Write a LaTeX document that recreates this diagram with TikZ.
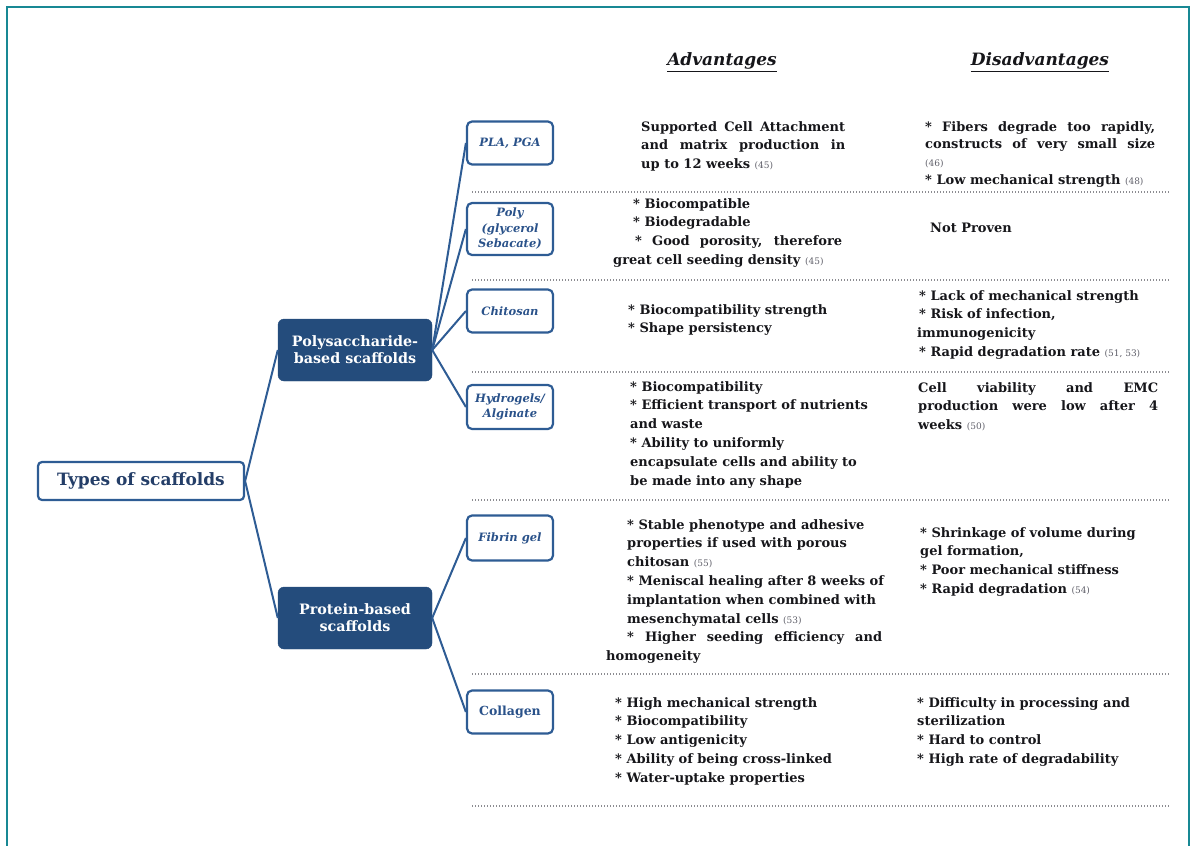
\documentclass[tikz,border=0pt]{standalone}
\usepackage{fontspec}
\setmainfont{DejaVu Serif}
\definecolor{frameteal}{RGB}{24,136,148}
\definecolor{boxblue}{RGB}{36,76,124}
\definecolor{lineblue}{RGB}{46,92,148}
\definecolor{labelblue}{RGB}{42,82,138}
\definecolor{navy}{RGB}{36,62,104}
\definecolor{bodytext}{RGB}{22,22,26}
\definecolor{refgray}{RGB}{95,95,105}
\definecolor{sepgray}{RGB}{140,140,145}
\newcommand\rf[1]{{\mdseries\fontsize{9}{10}\selectfont\color{refgray}(#1)}}
\newcommand\jl[2]{\makebox[#1pt][s]{#2}}
\begin{document}
\begin{tikzpicture}[x=1pt,y=-1pt,
  every node/.style={inner sep=0pt},
  tbox/.style={draw=lineblue,line width=2.2pt,rounded corners=4pt,fill=white,minimum width=206pt,minimum height=38pt,text=navy,font=\bfseries\fontsize{17}{18}\selectfont},
  dbox/.style={fill=boxblue,draw=boxblue,rounded corners=6pt,minimum width=154pt,minimum height=62pt,text=white,align=center,font=\bfseries\fontsize{14.3}{17}\selectfont},
  lbox/.style={draw=lineblue,line width=2.2pt,rounded corners=5pt,fill=white,minimum width=86pt,minimum height=43pt,text=labelblue,align=center,font=\bfseries\itshape\fontsize{11.5}{15.5}\selectfont},
  txt/.style={anchor=north west,align=left,text=bodytext,font=\bfseries\fontsize{13}{18.8}\selectfont},
  hdr/.style={text=bodytext,font=\bfseries\itshape\fontsize{17}{18}\selectfont},
  link/.style={draw=lineblue,line width=2pt},
  sep/.style={draw=sepgray,line width=1.3pt,dash pattern=on 1.2pt off 1.8pt}]
\useasboundingbox (0,0) rectangle (1192,846);
\draw[frameteal,line width=2.5pt] (7,846) -- (7,7) -- (1189,7) -- (1189,846);

\node[hdr] (adv) at (722,62) {\underline{Advantages}};
\node[hdr] (dis) at (1040,62) {\underline{Disadvantages}};

\node[tbox] (types) at (141,481) {Types of scaffolds};
\node[dbox] (poly) at (355,350) {Polysaccharide-\\based scaffolds};
\node[dbox] (prot) at (355,618) {Protein-based\\scaffolds};

\node[lbox] (pla) at (510,143) {PLA, PGA};
\node[lbox,minimum height=52pt] (pgs) at (510,229) {Poly\\(glycerol\\Sebacate)};
\node[lbox] (chit) at (510,311) {Chitosan};
\node[lbox,minimum height=44pt] (hydro) at (510,407) {Hydrogels/\\Alginate};
\node[lbox,minimum height=45pt] (fib) at (510,538) {Fibrin gel};
\node[lbox,font=\bfseries\fontsize{12.5}{15}\selectfont] (coll) at (510,712) {Collagen};

\draw[link] (types.east) -- (poly.west) (types.east) -- (prot.west);
\foreach \n in {pla,pgs,chit,hydro} \draw[link] (poly.east) -- (\n.west);
\foreach \n in {fib,coll} \draw[link] (prot.east) -- (\n.west);

\foreach \y in {192,280,372,500,674,806} \draw[sep] (472,\y) -- (1170,\y);

\node[txt] (a1) at (641,121) {\jl{204}{Supported Cell Attachment}\\ \jl{204}{and matrix production in}\\ up to 12 weeks \rf{45}};
\node[txt,font=\bfseries\fontsize{13}{17.8}\selectfont] (d1) at (925,121) {\jl{230}{* Fibers degrade too rapidly,}\\ \jl{230}{constructs of very small size}\\ \rf{46}\\ * Low mechanical strength \rf{48}};
\node[txt] (a2) at (613,198) {\hspace*{20pt}* Biocompatible\\ \hspace*{20pt}* Biodegradable\\ \hspace*{22pt}\jl{207}{* Good porosity, therefore}\\ great cell seeding density \rf{45}};
\node[txt] (d2) at (930,223) {Not Proven};
\node[txt] (a3) at (628,304) {* Biocompatibility strength\\ * Shape persistency};
\node[txt] (d3) at (917,290) {\hspace*{2pt}* Lack of mechanical strength\\ \hspace*{2pt}* Risk of infection,\\ immunogenicity\\ \hspace*{2pt}* Rapid degradation rate \rf{51, 53}};
\node[txt] (a4) at (630,381) {* Biocompatibility\\ * Efficient transport of nutrients\\ and waste\\ * Ability to uniformly\\ encapsulate cells and ability to\\ be made into any shape};
\node[txt] (d4) at (918,382) {\jl{240}{Cell viability and EMC}\\ \jl{240}{production were low after 4}\\ weeks \rf{50}};
\node[txt] (a5) at (606,519) {\hspace*{21pt}* Stable phenotype and adhesive\\ \hspace*{21pt}properties if used with porous\\ \hspace*{21pt}chitosan \rf{55}\\ \hspace*{21pt}* Meniscal healing after 8 weeks of\\ \hspace*{21pt}implantation when combined with\\ \hspace*{21pt}mesenchymatal cells \rf{53}\\ \hspace*{21pt}\jl{255}{* Higher seeding efficiency and}\\ homogeneity};
\node[txt] (d5) at (920,527) {* Shrinkage of volume during\\ gel formation,\\ * Poor mechanical stiffness\\ * Rapid degradation \rf{54}};
\node[txt] (a6) at (615,697) {* High mechanical strength\\ * Biocompatibility\\ * Low antigenicity\\ * Ability of being cross-linked\\ * Water-uptake properties};
\node[txt] (d6) at (917,697) {* Difficulty in processing and\\ sterilization\\ * Hard to control\\ * High rate of degradability};
\end{tikzpicture}
\end{document}
